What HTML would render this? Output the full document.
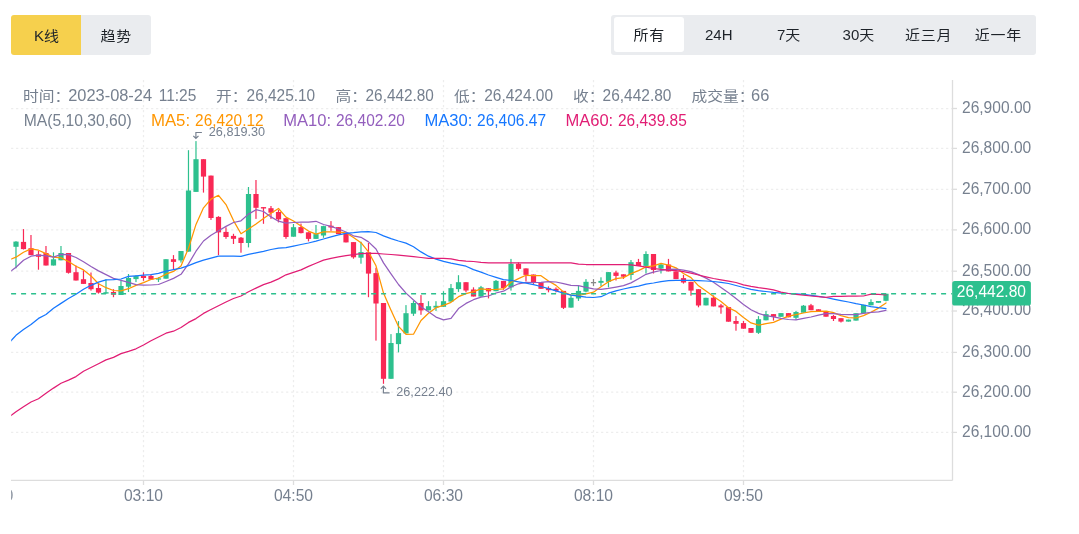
<!DOCTYPE html>
<html lang="zh-CN"><head><meta charset="utf-8"><title>K线</title>
<style>
html,body{margin:0;padding:0;background:#fff}
body{width:1079px;height:534px;overflow:hidden;position:relative;font-family:"Liberation Sans","Noto Sans CJK SC",sans-serif;color:#1e2329}
.tabs{position:absolute;left:11px;top:15px;height:40px;display:flex;border-radius:3px;overflow:hidden}
.tabs div{width:69.75px;height:40px;line-height:40px;text-align:center;font-size:15px;background:#EAECEF;color:#1e2329}
.tabs div.on{width:70px;background:#F6D04D}
.seg{position:absolute;left:611px;top:15px;width:425px;height:40px;background:#EAECEF;border-radius:3px;box-sizing:border-box;padding:1.8px 3px;display:flex}
.seg div{flex:1;height:35.6px;line-height:36px;text-align:center;font-size:15px;color:#1e2329;border-radius:3px}
.seg div.on{background:#fff}
.tabs div{padding-top:0.9px;box-sizing:border-box}
.seg div{padding-top:0.1px;box-sizing:border-box}
.c{display:inline-block;line-height:1;transform:scaleY(.93);transform-origin:center bottom;position:relative;top:0.1px;letter-spacing:0.8px;margin-right:-0.8px}
svg{position:absolute;left:0;top:0}
svg text{font-family:"Liberation Sans","Noto Sans CJK SC",sans-serif}
</style></head><body>
<div class="tabs"><div class="on" style="padding-left:1.2px">K<span class="c">线</span></div><div><span class="c">趋势</span></div></div>
<div class="seg"><div class="on"><span class="c">所有</span></div><div>24H</div><div>7<span class="c">天</span></div><div>30<span class="c">天</span></div><div><span class="c">近三月</span></div><div><span class="c">近一年</span></div></div>
<svg width="1079" height="534" viewBox="0 0 1079 534">
<defs><clipPath id="cp"><rect x="11.2" y="80" width="941" height="400"/></clipPath><clipPath id="cx"><rect x="11.2" y="481" width="1057" height="30"/></clipPath></defs>
<line x1="11.1" x2="952" y1="108.5" y2="108.5" stroke="#EDEDED" stroke-width="1.25" stroke-dasharray="2.2 2.8"/>
<line x1="11.1" x2="952" y1="148.4" y2="148.4" stroke="#EDEDED" stroke-width="1.25" stroke-dasharray="2.2 2.8"/>
<line x1="11.1" x2="952" y1="189.3" y2="189.3" stroke="#EDEDED" stroke-width="1.25" stroke-dasharray="2.2 2.8"/>
<line x1="11.1" x2="952" y1="229.9" y2="229.9" stroke="#EDEDED" stroke-width="1.25" stroke-dasharray="2.2 2.8"/>
<line x1="11.1" x2="952" y1="271.2" y2="271.2" stroke="#EDEDED" stroke-width="1.25" stroke-dasharray="2.2 2.8"/>
<line x1="11.1" x2="952" y1="311.0" y2="311.0" stroke="#EDEDED" stroke-width="1.25" stroke-dasharray="2.2 2.8"/>
<line x1="11.1" x2="952" y1="352.4" y2="352.4" stroke="#EDEDED" stroke-width="1.25" stroke-dasharray="2.2 2.8"/>
<line x1="11.1" x2="952" y1="392.2" y2="392.2" stroke="#EDEDED" stroke-width="1.25" stroke-dasharray="2.2 2.8"/>
<line x1="11.1" x2="952" y1="432.4" y2="432.4" stroke="#EDEDED" stroke-width="1.25" stroke-dasharray="2.2 2.8"/>
<line x1="143.5" x2="143.5" y1="80" y2="480" stroke="#EDEDED" stroke-width="1.25" stroke-dasharray="2.2 2.8"/>
<line x1="293.5" x2="293.5" y1="80" y2="480" stroke="#EDEDED" stroke-width="1.25" stroke-dasharray="2.2 2.8"/>
<line x1="443.5" x2="443.5" y1="80" y2="480" stroke="#EDEDED" stroke-width="1.25" stroke-dasharray="2.2 2.8"/>
<line x1="593.5" x2="593.5" y1="80" y2="480" stroke="#EDEDED" stroke-width="1.25" stroke-dasharray="2.2 2.8"/>
<line x1="743.5" x2="743.5" y1="80" y2="480" stroke="#EDEDED" stroke-width="1.25" stroke-dasharray="2.2 2.8"/>
<g clip-path="url(#cp)">
<rect x="15.38" y="241.2" width="1.2" height="27.1" fill="#2DC08E"/>
<rect x="13.40" y="241.6" width="5.2" height="5.2" fill="#2DC08E"/>
<rect x="22.88" y="229.1" width="1.2" height="20.4" fill="#F92855"/>
<rect x="20.90" y="241.9" width="5.2" height="7.2" fill="#F92855"/>
<rect x="30.38" y="235.0" width="1.2" height="20.1" fill="#F92855"/>
<rect x="28.40" y="248.2" width="5.2" height="6.9" fill="#F92855"/>
<rect x="37.88" y="251.0" width="1.2" height="18.7" fill="#F92855"/>
<rect x="35.90" y="254.4" width="5.2" height="2.4" fill="#F92855"/>
<rect x="45.38" y="246.0" width="1.2" height="19.5" fill="#F92855"/>
<rect x="43.40" y="253.0" width="5.2" height="12.5" fill="#F92855"/>
<rect x="52.88" y="252.3" width="1.2" height="13.2" fill="#2DC08E"/>
<rect x="50.90" y="259.3" width="5.2" height="6.2" fill="#2DC08E"/>
<rect x="60.38" y="246.0" width="1.2" height="14.3" fill="#2DC08E"/>
<rect x="58.40" y="253.0" width="5.2" height="7.3" fill="#2DC08E"/>
<rect x="67.88" y="253.0" width="1.2" height="20.6" fill="#F92855"/>
<rect x="65.90" y="253.0" width="5.2" height="19.8" fill="#F92855"/>
<rect x="75.38" y="265.5" width="1.2" height="15.0" fill="#F92855"/>
<rect x="73.40" y="272.2" width="5.2" height="8.3" fill="#F92855"/>
<rect x="82.88" y="270.4" width="1.2" height="13.5" fill="#F92855"/>
<rect x="80.90" y="279.2" width="5.2" height="4.7" fill="#F92855"/>
<rect x="90.38" y="272.5" width="1.2" height="18.1" fill="#F92855"/>
<rect x="88.40" y="283.0" width="5.2" height="6.2" fill="#F92855"/>
<rect x="97.88" y="283.0" width="1.2" height="10.6" fill="#F92855"/>
<rect x="95.90" y="288.0" width="5.2" height="4.6" fill="#F92855"/>
<rect x="105.38" y="279.4" width="1.2" height="14.2" fill="#2DC08E"/>
<rect x="103.40" y="292.2" width="5.2" height="1.4" fill="#2DC08E"/>
<rect x="112.88" y="289.2" width="1.2" height="8.0" fill="#F92855"/>
<rect x="110.90" y="292.0" width="5.2" height="2.7" fill="#F92855"/>
<rect x="120.38" y="280.8" width="1.2" height="14.2" fill="#2DC08E"/>
<rect x="118.40" y="286.0" width="5.2" height="9.0" fill="#2DC08E"/>
<rect x="127.88" y="274.0" width="1.2" height="18.0" fill="#2DC08E"/>
<rect x="125.90" y="278.0" width="5.2" height="8.7" fill="#2DC08E"/>
<rect x="135.38" y="275.4" width="1.2" height="6.7" fill="#2DC08E"/>
<rect x="133.40" y="276.1" width="5.2" height="3.0" fill="#2DC08E"/>
<rect x="142.88" y="272.3" width="1.2" height="8.5" fill="#F92855"/>
<rect x="140.90" y="275.9" width="5.2" height="2.1" fill="#F92855"/>
<rect x="150.38" y="274.2" width="1.2" height="5.4" fill="#F92855"/>
<rect x="148.40" y="275.9" width="5.2" height="3.7" fill="#F92855"/>
<rect x="157.88" y="277.2" width="1.2" height="4.8" fill="#2DC08E"/>
<rect x="155.90" y="278.3" width="5.2" height="1.3" fill="#2DC08E"/>
<rect x="165.38" y="259.2" width="1.2" height="19.5" fill="#2DC08E"/>
<rect x="163.40" y="259.2" width="5.2" height="19.5" fill="#2DC08E"/>
<rect x="172.88" y="255.1" width="1.2" height="14.2" fill="#F92855"/>
<rect x="170.90" y="259.2" width="5.2" height="2.7" fill="#F92855"/>
<rect x="180.38" y="251.0" width="1.2" height="11.6" fill="#2DC08E"/>
<rect x="178.40" y="251.0" width="5.2" height="9.4" fill="#2DC08E"/>
<rect x="187.88" y="150.2" width="1.2" height="101.4" fill="#2DC08E"/>
<rect x="185.90" y="190.5" width="5.2" height="61.1" fill="#2DC08E"/>
<rect x="195.38" y="141.1" width="1.2" height="50.8" fill="#2DC08E"/>
<rect x="193.40" y="159.2" width="5.2" height="32.7" fill="#2DC08E"/>
<rect x="202.88" y="159.2" width="1.2" height="33.4" fill="#F92855"/>
<rect x="200.90" y="159.2" width="5.2" height="17.4" fill="#F92855"/>
<rect x="210.38" y="175.6" width="1.2" height="44.3" fill="#F92855"/>
<rect x="208.40" y="175.6" width="5.2" height="42.4" fill="#F92855"/>
<rect x="217.88" y="216.2" width="1.2" height="38.9" fill="#F92855"/>
<rect x="215.90" y="216.9" width="5.2" height="15.5" fill="#F92855"/>
<rect x="225.38" y="227.3" width="1.2" height="11.5" fill="#F92855"/>
<rect x="223.40" y="231.9" width="5.2" height="5.1" fill="#F92855"/>
<rect x="232.88" y="233.8" width="1.2" height="10.2" fill="#F92855"/>
<rect x="230.90" y="235.9" width="5.2" height="2.9" fill="#F92855"/>
<rect x="240.38" y="237.0" width="1.2" height="15.7" fill="#F92855"/>
<rect x="238.40" y="237.7" width="5.2" height="5.3" fill="#F92855"/>
<rect x="247.88" y="187.0" width="1.2" height="60.4" fill="#2DC08E"/>
<rect x="245.90" y="194.0" width="5.2" height="49.0" fill="#2DC08E"/>
<rect x="255.38" y="180.0" width="1.2" height="38.9" fill="#F92855"/>
<rect x="253.40" y="194.0" width="5.2" height="13.8" fill="#F92855"/>
<rect x="262.88" y="207.1" width="1.2" height="16.7" fill="#F92855"/>
<rect x="260.90" y="207.1" width="5.2" height="1.4" fill="#F92855"/>
<rect x="270.38" y="206.0" width="1.2" height="12.9" fill="#F92855"/>
<rect x="268.40" y="208.2" width="5.2" height="4.5" fill="#F92855"/>
<rect x="277.88" y="209.9" width="1.2" height="12.5" fill="#F92855"/>
<rect x="275.90" y="212.0" width="5.2" height="7.4" fill="#F92855"/>
<rect x="285.38" y="218.2" width="1.2" height="20.6" fill="#F92855"/>
<rect x="283.40" y="218.2" width="5.2" height="18.8" fill="#F92855"/>
<rect x="292.88" y="224.0" width="1.2" height="12.7" fill="#2DC08E"/>
<rect x="290.90" y="227.2" width="5.2" height="9.5" fill="#2DC08E"/>
<rect x="300.38" y="223.6" width="1.2" height="9.8" fill="#F92855"/>
<rect x="298.40" y="227.1" width="5.2" height="6.0" fill="#F92855"/>
<rect x="307.88" y="232.3" width="1.2" height="9.1" fill="#F92855"/>
<rect x="305.90" y="232.3" width="5.2" height="6.6" fill="#F92855"/>
<rect x="315.38" y="225.0" width="1.2" height="13.9" fill="#2DC08E"/>
<rect x="313.40" y="234.1" width="5.2" height="4.8" fill="#2DC08E"/>
<rect x="322.88" y="225.7" width="1.2" height="12.1" fill="#2DC08E"/>
<rect x="320.90" y="226.1" width="5.2" height="9.4" fill="#2DC08E"/>
<rect x="330.38" y="221.1" width="1.2" height="9.8" fill="#F92855"/>
<rect x="328.40" y="225.7" width="5.2" height="1.8" fill="#F92855"/>
<rect x="337.88" y="227.1" width="1.2" height="7.0" fill="#F92855"/>
<rect x="335.90" y="227.1" width="5.2" height="7.0" fill="#F92855"/>
<rect x="345.38" y="233.4" width="1.2" height="9.0" fill="#F92855"/>
<rect x="343.40" y="233.4" width="5.2" height="9.0" fill="#F92855"/>
<rect x="352.88" y="242.1" width="1.2" height="16.6" fill="#F92855"/>
<rect x="350.90" y="242.1" width="5.2" height="15.2" fill="#F92855"/>
<rect x="360.38" y="241.7" width="1.2" height="22.0" fill="#2DC08E"/>
<rect x="358.40" y="252.1" width="5.2" height="5.6" fill="#2DC08E"/>
<rect x="367.88" y="243.0" width="1.2" height="54.2" fill="#F92855"/>
<rect x="365.90" y="252.3" width="5.2" height="21.3" fill="#F92855"/>
<rect x="375.38" y="267.8" width="1.2" height="72.8" fill="#F92855"/>
<rect x="373.40" y="273.1" width="5.2" height="30.4" fill="#F92855"/>
<rect x="382.88" y="303.0" width="1.2" height="80.8" fill="#F92855"/>
<rect x="380.90" y="303.0" width="5.2" height="75.8" fill="#F92855"/>
<rect x="390.38" y="334.1" width="1.2" height="44.7" fill="#2DC08E"/>
<rect x="388.40" y="343.0" width="5.2" height="35.8" fill="#2DC08E"/>
<rect x="397.88" y="321.1" width="1.2" height="31.3" fill="#2DC08E"/>
<rect x="395.90" y="333.1" width="5.2" height="11.0" fill="#2DC08E"/>
<rect x="405.38" y="305.1" width="1.2" height="28.3" fill="#2DC08E"/>
<rect x="403.40" y="313.2" width="5.2" height="20.2" fill="#2DC08E"/>
<rect x="412.88" y="300.9" width="1.2" height="15.0" fill="#2DC08E"/>
<rect x="410.90" y="303.0" width="5.2" height="10.7" fill="#2DC08E"/>
<rect x="420.38" y="295.1" width="1.2" height="19.7" fill="#F92855"/>
<rect x="418.40" y="303.0" width="5.2" height="7.4" fill="#F92855"/>
<rect x="427.88" y="301.2" width="1.2" height="9.2" fill="#2DC08E"/>
<rect x="425.90" y="306.2" width="5.2" height="4.2" fill="#2DC08E"/>
<rect x="435.38" y="301.2" width="1.2" height="9.7" fill="#2DC08E"/>
<rect x="433.40" y="305.8" width="5.2" height="1.8" fill="#2DC08E"/>
<rect x="442.88" y="291.2" width="1.2" height="15.6" fill="#2DC08E"/>
<rect x="440.90" y="301.2" width="5.2" height="5.6" fill="#2DC08E"/>
<rect x="450.38" y="284.0" width="1.2" height="17.6" fill="#2DC08E"/>
<rect x="448.40" y="288.1" width="5.2" height="13.5" fill="#2DC08E"/>
<rect x="457.88" y="275.2" width="1.2" height="16.7" fill="#2DC08E"/>
<rect x="455.90" y="282.2" width="5.2" height="6.9" fill="#2DC08E"/>
<rect x="465.38" y="282.2" width="1.2" height="10.1" fill="#F92855"/>
<rect x="463.40" y="282.2" width="5.2" height="8.3" fill="#F92855"/>
<rect x="472.88" y="287.3" width="1.2" height="9.2" fill="#F92855"/>
<rect x="470.90" y="289.5" width="5.2" height="7.0" fill="#F92855"/>
<rect x="480.38" y="285.9" width="1.2" height="10.7" fill="#2DC08E"/>
<rect x="478.40" y="287.3" width="5.2" height="9.3" fill="#2DC08E"/>
<rect x="487.88" y="288.2" width="1.2" height="10.2" fill="#F92855"/>
<rect x="485.90" y="288.2" width="5.2" height="3.2" fill="#F92855"/>
<rect x="495.38" y="280.0" width="1.2" height="11.2" fill="#2DC08E"/>
<rect x="493.40" y="280.9" width="5.2" height="10.3" fill="#2DC08E"/>
<rect x="502.88" y="280.9" width="1.2" height="8.9" fill="#F92855"/>
<rect x="500.90" y="280.9" width="5.2" height="7.2" fill="#F92855"/>
<rect x="510.38" y="258.9" width="1.2" height="31.7" fill="#2DC08E"/>
<rect x="508.40" y="263.8" width="5.2" height="23.6" fill="#2DC08E"/>
<rect x="517.88" y="262.4" width="1.2" height="8.7" fill="#F92855"/>
<rect x="515.90" y="263.8" width="5.2" height="5.1" fill="#F92855"/>
<rect x="525.38" y="268.4" width="1.2" height="13.0" fill="#F92855"/>
<rect x="523.40" y="268.4" width="5.2" height="6.5" fill="#F92855"/>
<rect x="532.88" y="274.5" width="1.2" height="9.4" fill="#F92855"/>
<rect x="530.90" y="274.5" width="5.2" height="7.8" fill="#F92855"/>
<rect x="540.38" y="282.3" width="1.2" height="6.5" fill="#F92855"/>
<rect x="538.40" y="282.3" width="5.2" height="6.5" fill="#F92855"/>
<rect x="547.88" y="286.4" width="1.2" height="5.9" fill="#F92855"/>
<rect x="545.90" y="288.1" width="5.2" height="2.1" fill="#F92855"/>
<rect x="555.38" y="287.4" width="1.2" height="4.9" fill="#F92855"/>
<rect x="553.40" y="288.8" width="5.2" height="2.1" fill="#F92855"/>
<rect x="562.88" y="290.9" width="1.2" height="18.1" fill="#F92855"/>
<rect x="560.90" y="290.9" width="5.2" height="16.9" fill="#F92855"/>
<rect x="570.38" y="295.7" width="1.2" height="11.9" fill="#2DC08E"/>
<rect x="568.40" y="297.8" width="5.2" height="9.8" fill="#2DC08E"/>
<rect x="577.88" y="286.0" width="1.2" height="14.9" fill="#2DC08E"/>
<rect x="575.90" y="290.9" width="5.2" height="7.6" fill="#2DC08E"/>
<rect x="585.38" y="279.1" width="1.2" height="13.2" fill="#2DC08E"/>
<rect x="583.40" y="281.8" width="5.2" height="9.8" fill="#2DC08E"/>
<rect x="592.88" y="279.1" width="1.2" height="6.9" fill="#888888"/>
<rect x="590.90" y="282.0" width="5.2" height="1.3" fill="#888888"/>
<rect x="600.38" y="277.3" width="1.2" height="8.7" fill="#2DC08E"/>
<rect x="598.40" y="280.9" width="5.2" height="1.9" fill="#2DC08E"/>
<rect x="607.88" y="272.1" width="1.2" height="15.3" fill="#2DC08E"/>
<rect x="605.90" y="272.1" width="5.2" height="9.7" fill="#2DC08E"/>
<rect x="615.38" y="270.7" width="1.2" height="9.8" fill="#F92855"/>
<rect x="613.40" y="272.5" width="5.2" height="3.4" fill="#F92855"/>
<rect x="622.88" y="274.3" width="1.2" height="4.6" fill="#F92855"/>
<rect x="620.90" y="274.3" width="5.2" height="2.4" fill="#F92855"/>
<rect x="630.38" y="260.0" width="1.2" height="19.8" fill="#2DC08E"/>
<rect x="628.40" y="262.2" width="5.2" height="12.8" fill="#2DC08E"/>
<rect x="637.88" y="258.9" width="1.2" height="7.0" fill="#F92855"/>
<rect x="635.90" y="262.0" width="5.2" height="3.9" fill="#F92855"/>
<rect x="645.38" y="251.3" width="1.2" height="22.2" fill="#2DC08E"/>
<rect x="643.40" y="254.0" width="5.2" height="11.9" fill="#2DC08E"/>
<rect x="652.88" y="254.0" width="1.2" height="19.5" fill="#F92855"/>
<rect x="650.90" y="254.0" width="5.2" height="16.0" fill="#F92855"/>
<rect x="660.38" y="263.1" width="1.2" height="10.4" fill="#2DC08E"/>
<rect x="658.40" y="264.5" width="5.2" height="4.1" fill="#2DC08E"/>
<rect x="667.88" y="258.9" width="1.2" height="12.5" fill="#F92855"/>
<rect x="665.90" y="264.5" width="5.2" height="6.9" fill="#F92855"/>
<rect x="675.38" y="271.4" width="1.2" height="7.7" fill="#F92855"/>
<rect x="673.40" y="271.4" width="5.2" height="7.7" fill="#F92855"/>
<rect x="682.88" y="274.9" width="1.2" height="8.7" fill="#F92855"/>
<rect x="680.90" y="278.1" width="5.2" height="4.4" fill="#F92855"/>
<rect x="690.38" y="281.8" width="1.2" height="13.9" fill="#F92855"/>
<rect x="688.40" y="281.8" width="5.2" height="8.8" fill="#F92855"/>
<rect x="697.88" y="289.2" width="1.2" height="18.1" fill="#F92855"/>
<rect x="695.90" y="289.2" width="5.2" height="16.3" fill="#F92855"/>
<rect x="705.38" y="297.8" width="1.2" height="7.6" fill="#2DC08E"/>
<rect x="703.40" y="297.8" width="5.2" height="7.6" fill="#2DC08E"/>
<rect x="712.88" y="295.4" width="1.2" height="11.0" fill="#F92855"/>
<rect x="710.90" y="297.7" width="5.2" height="8.7" fill="#F92855"/>
<rect x="720.38" y="303.9" width="1.2" height="9.8" fill="#F92855"/>
<rect x="718.40" y="305.4" width="5.2" height="2.0" fill="#F92855"/>
<rect x="727.88" y="307.1" width="1.2" height="14.6" fill="#F92855"/>
<rect x="725.90" y="307.1" width="5.2" height="14.6" fill="#F92855"/>
<rect x="735.38" y="316.1" width="1.2" height="14.6" fill="#F92855"/>
<rect x="733.40" y="321.0" width="5.2" height="2.8" fill="#F92855"/>
<rect x="742.88" y="321.0" width="1.2" height="7.7" fill="#F92855"/>
<rect x="740.90" y="323.1" width="5.2" height="5.6" fill="#F92855"/>
<rect x="750.38" y="328.0" width="1.2" height="4.8" fill="#F92855"/>
<rect x="748.40" y="328.0" width="5.2" height="4.8" fill="#F92855"/>
<rect x="757.88" y="316.1" width="1.2" height="17.8" fill="#2DC08E"/>
<rect x="755.90" y="319.2" width="5.2" height="13.6" fill="#2DC08E"/>
<rect x="765.38" y="310.9" width="1.2" height="9.4" fill="#2DC08E"/>
<rect x="763.40" y="314.1" width="5.2" height="6.2" fill="#2DC08E"/>
<rect x="772.88" y="314.1" width="1.2" height="6.5" fill="#F92855"/>
<rect x="770.90" y="314.1" width="5.2" height="2.7" fill="#F92855"/>
<rect x="780.38" y="313.1" width="1.2" height="3.7" fill="#2DC08E"/>
<rect x="778.40" y="313.1" width="5.2" height="3.7" fill="#2DC08E"/>
<rect x="787.88" y="313.1" width="1.2" height="4.2" fill="#F92855"/>
<rect x="785.90" y="313.1" width="5.2" height="4.2" fill="#F92855"/>
<rect x="795.38" y="310.9" width="1.2" height="8.7" fill="#2DC08E"/>
<rect x="793.40" y="312.0" width="5.2" height="5.8" fill="#2DC08E"/>
<rect x="802.88" y="305.0" width="1.2" height="7.7" fill="#2DC08E"/>
<rect x="800.90" y="305.7" width="5.2" height="7.0" fill="#2DC08E"/>
<rect x="810.38" y="303.9" width="1.2" height="6.3" fill="#F92855"/>
<rect x="808.40" y="305.3" width="5.2" height="4.9" fill="#F92855"/>
<rect x="817.88" y="309.3" width="1.2" height="1.9" fill="#F92855"/>
<rect x="815.90" y="309.3" width="5.2" height="1.9" fill="#F92855"/>
<rect x="825.38" y="311.7" width="1.2" height="5.0" fill="#F92855"/>
<rect x="823.40" y="311.7" width="5.2" height="5.0" fill="#F92855"/>
<rect x="832.88" y="314.9" width="1.2" height="6.1" fill="#F92855"/>
<rect x="830.90" y="316.0" width="5.2" height="3.0" fill="#F92855"/>
<rect x="840.38" y="318.2" width="1.2" height="4.3" fill="#F92855"/>
<rect x="838.40" y="318.2" width="5.2" height="3.4" fill="#F92855"/>
<rect x="847.88" y="319.6" width="1.2" height="2.0" fill="#2DC08E"/>
<rect x="845.90" y="319.6" width="5.2" height="2.0" fill="#2DC08E"/>
<rect x="855.38" y="313.2" width="1.2" height="7.4" fill="#2DC08E"/>
<rect x="853.40" y="313.2" width="5.2" height="7.4" fill="#2DC08E"/>
<rect x="862.88" y="304.8" width="1.2" height="8.4" fill="#2DC08E"/>
<rect x="860.90" y="304.8" width="5.2" height="8.4" fill="#2DC08E"/>
<rect x="870.38" y="299.3" width="1.2" height="6.0" fill="#2DC08E"/>
<rect x="868.40" y="302.0" width="5.2" height="3.3" fill="#2DC08E"/>
<rect x="877.88" y="301.0" width="1.2" height="1.8" fill="#2DC08E"/>
<rect x="875.90" y="301.0" width="5.2" height="1.8" fill="#2DC08E"/>
<rect x="885.38" y="293.7" width="1.2" height="7.6" fill="#2DC08E"/>
<rect x="883.40" y="293.7" width="5.2" height="7.1" fill="#2DC08E"/>
<polyline points="8.5,260.0 16.0,257.2 23.5,252.3 31.0,248.9 38.5,250.2 46.0,253.6 53.5,257.2 61.0,257.9 68.5,261.5 76.0,266.2 83.5,269.9 91.0,275.9 98.5,283.8 106.0,287.7 113.5,290.5 121.0,290.9 128.5,288.7 136.0,285.4 143.5,282.6 151.0,279.5 158.5,278.0 166.0,274.2 173.5,271.4 181.0,266.0 188.5,248.2 196.0,224.4 203.5,207.8 211.0,199.1 218.5,195.3 226.0,204.6 233.5,220.6 241.0,233.8 248.5,229.0 256.0,224.1 263.5,218.4 271.0,213.2 278.5,208.5 286.0,217.1 293.5,221.0 301.0,225.9 308.5,231.1 316.0,234.1 323.5,231.9 331.0,231.9 338.5,232.1 346.0,232.8 353.5,237.5 361.0,242.7 368.5,251.9 376.0,265.8 383.5,293.1 391.0,310.2 398.5,326.4 406.0,334.3 413.5,334.2 421.0,320.5 428.5,313.2 436.0,307.7 443.5,305.3 451.0,302.3 458.5,296.7 466.0,293.6 473.5,291.7 481.0,288.9 488.5,289.6 496.0,289.3 503.5,288.8 511.0,282.3 518.5,278.6 526.0,275.3 533.5,275.6 541.0,275.7 548.5,281.0 556.0,285.4 563.5,292.0 571.0,295.1 578.5,295.5 586.0,293.8 593.5,292.2 601.0,286.8 608.5,281.7 616.0,278.7 623.5,277.6 631.0,273.6 638.5,270.6 646.0,266.9 653.5,265.8 661.0,263.3 668.5,265.2 676.0,267.8 683.5,273.5 691.0,277.6 698.5,285.8 706.0,291.1 713.5,296.6 721.0,301.5 728.5,307.8 736.0,311.4 743.5,317.6 751.0,322.9 758.5,325.2 766.0,323.7 773.5,322.3 781.0,319.2 788.5,316.1 796.0,314.7 803.5,313.0 811.0,311.7 818.5,311.3 826.0,311.2 833.5,312.6 841.0,315.7 848.5,317.6 856.0,318.0 863.5,315.6 871.0,312.2 878.5,308.1 886.0,302.9" fill="none" stroke="#FF9600" stroke-width="1.25" stroke-linejoin="round" stroke-linecap="round"/>
<polyline points="8.5,273.0 16.0,267.2 23.5,260.3 31.0,256.2 38.5,255.1 46.0,255.8 53.5,257.2 61.0,254.4 68.5,254.7 76.0,257.5 83.5,261.8 91.0,266.5 98.5,270.9 106.0,274.6 113.5,278.4 121.0,280.4 128.5,282.3 136.0,284.6 143.5,285.1 151.0,285.0 158.5,284.5 166.0,281.5 173.5,278.4 181.0,274.3 188.5,263.9 196.0,251.2 203.5,241.0 211.0,235.2 218.5,230.7 226.0,226.4 233.5,222.5 241.0,220.8 248.5,214.1 256.0,209.7 263.5,211.5 271.0,216.9 278.5,221.2 286.0,223.1 293.5,222.5 301.0,222.2 308.5,222.2 316.0,221.3 323.5,224.5 331.0,226.4 338.5,229.0 346.0,232.0 353.5,235.8 361.0,237.3 368.5,241.9 376.0,249.0 383.5,262.9 391.0,273.8 398.5,284.5 406.0,293.1 413.5,300.0 421.0,306.8 428.5,311.7 436.0,317.1 443.5,319.8 451.0,318.3 458.5,308.6 466.0,303.4 473.5,299.7 481.0,297.1 488.5,296.0 496.0,293.0 503.5,291.2 511.0,287.0 518.5,283.8 526.0,282.4 533.5,282.5 541.0,282.3 548.5,281.7 556.0,282.0 563.5,283.7 571.0,285.4 578.5,285.6 586.0,287.4 593.5,288.8 601.0,289.4 608.5,288.4 616.0,287.1 623.5,285.7 631.0,282.9 638.5,278.7 646.0,274.3 653.5,272.2 661.0,270.5 668.5,269.4 676.0,269.2 683.5,270.2 691.0,271.7 698.5,274.6 706.0,278.1 713.5,282.2 721.0,287.5 728.5,292.7 736.0,298.6 743.5,304.4 751.0,309.7 758.5,313.4 766.0,315.7 773.5,316.9 781.0,318.4 788.5,319.5 796.0,319.9 803.5,318.4 811.0,317.0 818.5,315.2 826.0,313.6 833.5,313.6 841.0,314.4 848.5,314.6 856.0,314.6 863.5,313.4 871.0,312.4 878.5,311.9 886.0,310.3" fill="none" stroke="#935EBD" stroke-width="1.25" stroke-linejoin="round" stroke-linecap="round"/>
<polyline points="8.5,343.5 16.0,335.3 23.5,329.5 31.0,324.5 38.5,318.4 46.0,314.5 53.5,308.2 61.0,303.4 68.5,298.5 76.0,294.3 83.5,289.2 91.0,285.3 98.5,282.2 106.0,279.8 113.5,279.7 121.0,279.0 128.5,276.4 136.0,275.8 143.5,275.2 151.0,274.7 158.5,273.4 166.0,271.2 173.5,269.7 181.0,268.2 188.5,265.6 196.0,262.7 203.5,260.1 211.0,258.2 218.5,256.2 226.0,256.1 233.5,256.2 241.0,256.3 248.5,254.4 256.0,252.9 263.5,251.3 271.0,249.5 278.5,248.2 286.0,247.6 293.5,246.1 301.0,244.5 308.5,243.0 316.0,241.2 323.5,239.0 331.0,236.8 338.5,234.8 346.0,233.3 353.5,232.7 361.0,231.9 368.5,231.7 376.0,232.5 383.5,235.9 391.0,238.7 398.5,241.0 406.0,243.1 413.5,246.8 421.0,251.9 428.5,256.2 436.0,259.1 443.5,261.4 451.0,263.1 458.5,264.6 466.0,266.2 473.5,269.6 481.0,272.2 488.5,275.0 496.0,277.3 503.5,279.6 511.0,280.4 518.5,281.8 526.0,283.2 533.5,284.7 541.0,286.5 548.5,288.6 556.0,290.8 563.5,293.2 571.0,295.1 578.5,296.2 586.0,297.2 593.5,297.5 601.0,296.7 608.5,293.2 616.0,290.9 623.5,289.0 631.0,287.3 638.5,286.1 646.0,284.2 653.5,283.0 661.0,281.6 668.5,280.6 676.0,280.3 683.5,280.4 691.0,280.4 698.5,280.7 706.0,281.0 713.5,281.5 721.0,282.4 728.5,283.5 736.0,285.5 743.5,287.5 751.0,289.4 758.5,290.7 766.0,291.5 773.5,292.4 781.0,293.1 788.5,293.5 796.0,293.9 803.5,294.4 811.0,295.4 818.5,296.3 826.0,297.5 833.5,299.1 841.0,300.6 848.5,302.0 856.0,303.7 863.5,305.0 871.0,306.6 878.5,307.7 886.0,308.6" fill="none" stroke="#1677FF" stroke-width="1.25" stroke-linejoin="round" stroke-linecap="round"/>
<polyline points="8.5,417.2 16.0,411.8 23.5,406.8 31.0,402.0 38.5,398.8 46.0,393.3 53.5,388.1 61.0,383.3 68.5,380.1 76.0,376.6 83.5,371.3 91.0,367.5 98.5,363.8 106.0,359.9 113.5,357.4 121.0,353.6 128.5,351.3 136.0,348.8 143.5,345.0 151.0,340.8 158.5,337.0 166.0,333.2 173.5,331.2 181.0,327.5 188.5,322.4 196.0,318.6 203.5,313.4 211.0,309.5 218.5,305.7 226.0,302.0 233.5,298.5 241.0,296.0 248.5,291.8 256.0,288.1 263.5,284.6 271.0,282.1 278.5,278.9 286.0,274.8 293.5,272.4 301.0,269.9 308.5,266.4 316.0,263.2 323.5,260.1 331.0,258.3 338.5,256.9 346.0,255.7 353.5,254.6 361.0,253.6 368.5,253.3 376.0,253.4 383.5,254.0 391.0,254.5 398.5,255.2 406.0,255.9 413.5,256.7 421.0,257.5 428.5,258.3 436.0,258.4 443.5,258.4 451.0,258.9 458.5,260.4 466.0,261.2 473.5,261.5 481.0,262.3 488.5,262.9 496.0,262.9 503.5,262.9 511.0,262.9 518.5,262.9 526.0,262.9 533.5,262.9 541.0,262.9 548.5,262.9 556.0,262.9 563.5,262.9 571.0,262.9 578.5,264.1 586.0,264.5 593.5,264.5 601.0,264.5 608.5,264.5 616.0,264.5 623.5,264.5 631.0,264.8 638.5,265.9 646.0,267.2 653.5,268.5 661.0,269.4 668.5,270.1 676.0,270.6 683.5,271.7 691.0,273.2 698.5,275.0 706.0,276.8 713.5,278.5 721.0,279.9 728.5,281.2 736.0,282.5 743.5,284.8 751.0,286.4 758.5,287.7 766.0,288.7 773.5,289.9 781.0,292.1 788.5,293.5 796.0,294.4 803.5,295.2 811.0,296.0 818.5,296.7 826.0,297.3 833.5,296.3 841.0,296.3 848.5,296.2 856.0,296.2 863.5,296.0 871.0,294.2 878.5,294.3 886.0,294.8" fill="none" stroke="#E11D74" stroke-width="1.25" stroke-linejoin="round" stroke-linecap="round"/>
</g>
<line x1="11.1" x2="952" y1="293.7" y2="293.7" stroke="#2DC08E" stroke-width="1.35" stroke-dasharray="5 5"/>
<line x1="952.5" x2="952.5" y1="80" y2="480.5" stroke="#DDDDDD" stroke-width="1.3"/>
<line x1="11" x2="952.5" y1="480.4" y2="480.4" stroke="#DDDDDD" stroke-width="1.3"/>
<line x1="952.5" x2="957" y1="108.5" y2="108.5" stroke="#DDDDDD" stroke-width="1.3"/>
<line x1="952.5" x2="957" y1="148.4" y2="148.4" stroke="#DDDDDD" stroke-width="1.3"/>
<line x1="952.5" x2="957" y1="189.3" y2="189.3" stroke="#DDDDDD" stroke-width="1.3"/>
<line x1="952.5" x2="957" y1="229.9" y2="229.9" stroke="#DDDDDD" stroke-width="1.3"/>
<line x1="952.5" x2="957" y1="271.2" y2="271.2" stroke="#DDDDDD" stroke-width="1.3"/>
<line x1="952.5" x2="957" y1="311.0" y2="311.0" stroke="#DDDDDD" stroke-width="1.3"/>
<line x1="952.5" x2="957" y1="352.4" y2="352.4" stroke="#DDDDDD" stroke-width="1.3"/>
<line x1="952.5" x2="957" y1="392.2" y2="392.2" stroke="#DDDDDD" stroke-width="1.3"/>
<line x1="952.5" x2="957" y1="432.4" y2="432.4" stroke="#DDDDDD" stroke-width="1.3"/>
<line x1="143.5" x2="143.5" y1="480.4" y2="485" stroke="#DDDDDD" stroke-width="1.3"/>
<line x1="293.5" x2="293.5" y1="480.4" y2="485" stroke="#DDDDDD" stroke-width="1.3"/>
<line x1="443.5" x2="443.5" y1="480.4" y2="485" stroke="#DDDDDD" stroke-width="1.3"/>
<line x1="593.5" x2="593.5" y1="480.4" y2="485" stroke="#DDDDDD" stroke-width="1.3"/>
<line x1="743.5" x2="743.5" y1="480.4" y2="485" stroke="#DDDDDD" stroke-width="1.3"/>
<text x="962.0" y="113.0" font-size="15.6" fill="#76808F" textLength="69.2" lengthAdjust="spacingAndGlyphs">26,900.00</text>
<text x="962.0" y="152.8" font-size="15.6" fill="#76808F" textLength="69.2" lengthAdjust="spacingAndGlyphs">26,800.00</text>
<text x="962.0" y="193.7" font-size="15.6" fill="#76808F" textLength="69.2" lengthAdjust="spacingAndGlyphs">26,700.00</text>
<text x="962.0" y="234.3" font-size="15.6" fill="#76808F" textLength="69.2" lengthAdjust="spacingAndGlyphs">26,600.00</text>
<text x="962.0" y="275.6" font-size="15.6" fill="#76808F" textLength="69.2" lengthAdjust="spacingAndGlyphs">26,500.00</text>
<text x="962.0" y="315.4" font-size="15.6" fill="#76808F" textLength="69.2" lengthAdjust="spacingAndGlyphs">26,400.00</text>
<text x="962.0" y="356.8" font-size="15.6" fill="#76808F" textLength="69.2" lengthAdjust="spacingAndGlyphs">26,300.00</text>
<text x="962.0" y="396.6" font-size="15.6" fill="#76808F" textLength="69.2" lengthAdjust="spacingAndGlyphs">26,200.00</text>
<text x="962.0" y="436.8" font-size="15.6" fill="#76808F" textLength="69.2" lengthAdjust="spacingAndGlyphs">26,100.00</text>
<g clip-path="url(#cx)">
<text x="-6.5" y="501.0" font-size="15.6" fill="#76808F" text-anchor="middle" textLength="39.2" lengthAdjust="spacingAndGlyphs">01:30</text>
<text x="143.5" y="501.0" font-size="15.6" fill="#76808F" text-anchor="middle" textLength="39.2" lengthAdjust="spacingAndGlyphs">03:10</text>
<text x="293.5" y="501.0" font-size="15.6" fill="#76808F" text-anchor="middle" textLength="39.2" lengthAdjust="spacingAndGlyphs">04:50</text>
<text x="443.5" y="501.0" font-size="15.6" fill="#76808F" text-anchor="middle" textLength="39.2" lengthAdjust="spacingAndGlyphs">06:30</text>
<text x="593.5" y="501.0" font-size="15.6" fill="#76808F" text-anchor="middle" textLength="39.2" lengthAdjust="spacingAndGlyphs">08:10</text>
<text x="743.5" y="501.0" font-size="15.6" fill="#76808F" text-anchor="middle" textLength="39.2" lengthAdjust="spacingAndGlyphs">09:50</text>
</g>
<rect x="952.2" y="281.1" width="78.7" height="24.5" rx="2.7" fill="#2DC08E"/>
<text x="956.8" y="297.2" font-size="15.6" fill="#FFFFFF" textLength="69.2" lengthAdjust="spacingAndGlyphs">26,442.80</text>
<path d="M201.9 132.5 H195.9 V138.3 M193.3 135.8 L195.9 138.5 L198.5 135.8" fill="none" stroke="#76808F" stroke-width="1.15"/>
<text x="208.8" y="135.8" font-size="13.4" fill="#76808F" textLength="56.3" lengthAdjust="spacingAndGlyphs">26,819.30</text>
<path d="M389.6 392.9 H383.4 V386.4 M380.8 388.9 L383.4 386.2 L386 388.9" fill="none" stroke="#76808F" stroke-width="1.15"/>
<text x="396.3" y="395.9" font-size="13.4" fill="#76808F" textLength="56.3" lengthAdjust="spacingAndGlyphs">26,222.40</text>
<text x="23.1" y="101.1" font-size="14.0" fill="#76808F" textLength="47.2" lengthAdjust="spacingAndGlyphs">时间：</text>
<text x="68.2" y="101.3" font-size="15.6" fill="#76808F" textLength="83.9" lengthAdjust="spacingAndGlyphs">2023-08-24</text>
<text x="158.7" y="101.3" font-size="15.6" fill="#76808F" textLength="37.7" lengthAdjust="spacingAndGlyphs">11:25</text>
<text x="216.1" y="101.1" font-size="14.0" fill="#76808F" textLength="31.5" lengthAdjust="spacingAndGlyphs">开：</text>
<text x="246.6" y="101.3" font-size="15.6" fill="#76808F" textLength="68.6" lengthAdjust="spacingAndGlyphs">26,425.10</text>
<text x="335.6" y="101.1" font-size="14.0" fill="#76808F" textLength="31.5" lengthAdjust="spacingAndGlyphs">高：</text>
<text x="365.6" y="101.3" font-size="15.6" fill="#76808F" textLength="68.2" lengthAdjust="spacingAndGlyphs">26,442.80</text>
<text x="453.9" y="101.1" font-size="14.0" fill="#76808F" textLength="31.5" lengthAdjust="spacingAndGlyphs">低：</text>
<text x="484.2" y="101.3" font-size="15.6" fill="#76808F" textLength="68.8" lengthAdjust="spacingAndGlyphs">26,424.00</text>
<text x="572.9" y="101.1" font-size="14.0" fill="#76808F" textLength="31.5" lengthAdjust="spacingAndGlyphs">收：</text>
<text x="602.6" y="101.3" font-size="15.6" fill="#76808F" textLength="68.8" lengthAdjust="spacingAndGlyphs">26,442.80</text>
<text x="691.4" y="101.1" font-size="14.0" fill="#76808F" textLength="63.0" lengthAdjust="spacingAndGlyphs">成交量：</text>
<text x="751.1" y="101.3" font-size="15.6" fill="#76808F" textLength="18.3" lengthAdjust="spacingAndGlyphs">66</text>
<text x="23.7" y="125.7" font-size="15.6" fill="#76808F" textLength="108.1" lengthAdjust="spacingAndGlyphs">MA(5,10,30,60)</text>
<text x="150.9" y="125.7" font-size="15.6" fill="#FF9600" textLength="39.2" lengthAdjust="spacingAndGlyphs">MA5:</text>
<text x="195.1" y="125.7" font-size="15.6" fill="#FF9600" textLength="68.5" lengthAdjust="spacingAndGlyphs">26,420.12</text>
<text x="283.2" y="125.7" font-size="15.6" fill="#935EBD" textLength="47.9" lengthAdjust="spacingAndGlyphs">MA10:</text>
<text x="336.0" y="125.7" font-size="15.6" fill="#935EBD" textLength="68.9" lengthAdjust="spacingAndGlyphs">26,402.20</text>
<text x="424.4" y="125.7" font-size="15.6" fill="#1677FF" textLength="47.9" lengthAdjust="spacingAndGlyphs">MA30:</text>
<text x="477.1" y="125.7" font-size="15.6" fill="#1677FF" textLength="68.9" lengthAdjust="spacingAndGlyphs">26,406.47</text>
<text x="565.4" y="125.7" font-size="15.6" fill="#E11D74" textLength="47.8" lengthAdjust="spacingAndGlyphs">MA60:</text>
<text x="618.0" y="125.7" font-size="15.6" fill="#E11D74" textLength="68.8" lengthAdjust="spacingAndGlyphs">26,439.85</text>
</svg>
</body></html>
